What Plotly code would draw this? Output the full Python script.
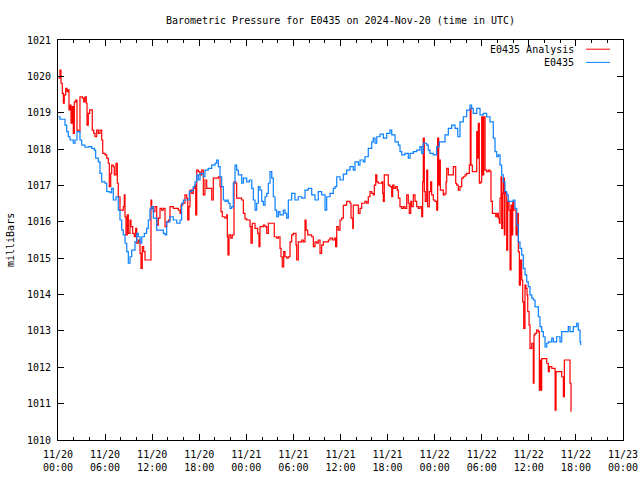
import pandas as pd
import plotly.graph_objects as go

# ---- data (hours since 2024-11-20 00:00 UTC, pressure in mb) ----
station_hours = [0.04,0.25,0.64,0.89,1.11,1.31,1.53,1.95,2.17,2.42,2.80,3.02,3.44,3.86,4.29,4.63,4.80,5.14,5.35,5.57,
    5.99,6.21,6.63,6.84,7.05,7.39,7.68,7.90,8.12,8.32,8.54,8.76,8.96,9.18,9.39,9.81,10.03,10.23,10.45,10.67,
    11.00,11.30,11.51,11.72,11.94,12.15,12.36,12.58,13.00,13.42,13.64,13.85,14.27,14.69,15.13,15.55,15.76,15.97,16.40,16.73,
    17.04,17.24,17.46,17.68,17.88,18.10,18.52,18.73,19.15,19.59,20.01,20.22,20.43,20.65,20.86,21.07,21.28,21.50,21.70,21.92,
    22.14,22.34,22.56,22.77,22.98,23.41,23.62,24.05,24.38,24.69,24.89,25.11,25.32,25.53,25.74,25.96,26.16,26.38,26.60,26.80,
    27.02,27.24,27.44,27.66,27.87,28.08,28.29,28.71,28.93,29.15,29.35,29.78,30.20,30.62,31.06,31.48,31.90,32.33,32.75,33.17,
    33.60,34.03,34.24,34.66,35.08,35.30,35.52,35.94,36.36,36.79,37.21,37.63,37.85,38.27,38.49,38.91,39.12,39.54,39.98,40.18,
    40.40,40.62,41.04,41.46,41.89,42.31,42.53,42.95,43.37,43.58,43.80,44.22,44.64,44.86,45.28,45.71,46.13,46.35,46.55,46.99,
    47.19,47.41,47.83,48.26,48.59,48.90,49.32,49.74,50.17,50.59,50.94,51.23,51.65,52.08,52.50,52.72,52.92,53.36,53.78,54.20,
    54.63,55.05,55.47,55.69,55.91,56.11,56.33,56.54,56.75,56.96,57.18,57.38,57.82,58.02,58.24,58.46,58.66,58.87,59.09,59.29,
    59.51,59.73,59.93,60.15,60.37,60.57,60.79,61.21,61.42,61.64,61.85,62.06,62.28,62.48,62.92,63.12,63.55,63.97,64.19,64.83,
    65.03,65.25,65.67,66.10,66.30,66.52,66.61]
station_mb = [1018.89,1018.82,1018.82,1018.66,1018.48,1018.34,1018.25,1018.16,1018.25,1018.48,1018.25,1018.11,1018.05,1018.07,1018.02,1017.97,1017.75,1017.65,1017.33,1017.10,
    1017.06,1016.83,1016.80,1016.92,1016.60,1016.69,1016.32,1016.05,1015.77,1015.64,1015.41,1015.18,1014.86,1015.04,1015.22,1015.45,1015.68,1015.59,1015.41,1015.59,
    1015.68,1015.82,1016.05,1016.35,1016.42,1016.10,1016.10,1015.77,1015.77,1015.68,1015.64,1016.00,1016.14,1016.05,1015.96,1016.05,1016.51,1016.60,1016.60,1016.83,
    1016.87,1016.97,1017.10,1017.29,1017.15,1017.33,1017.24,1017.42,1017.47,1017.56,1017.61,1017.70,1017.52,1017.24,1016.97,1016.60,1016.56,1016.60,1016.51,1016.37,
    1016.42,1017.06,1017.56,1017.42,1017.29,1017.06,1017.20,1017.10,1017.15,1016.92,1016.60,1016.32,1016.51,1016.97,1016.87,1016.56,1016.46,1016.69,1016.78,1017.06,
    1017.38,1017.20,1016.69,1016.32,1016.14,1016.28,1016.19,1016.32,1016.23,1016.10,1016.60,1016.78,1016.60,1016.69,1016.65,1016.87,1016.92,1016.74,1016.60,1016.83,
    1016.74,1016.32,1016.69,1016.78,1016.92,1016.97,1017.24,1017.15,1017.31,1017.42,1017.52,1017.42,1017.65,1017.56,1017.70,1017.65,1017.79,1018.02,1018.20,1018.30,
    1018.16,1018.34,1018.41,1018.30,1018.43,1018.52,1018.39,1018.20,1018.11,1017.93,1017.84,1017.88,1017.75,1017.88,1017.93,1017.97,1018.07,1017.88,1018.16,1018.11,
    1017.97,1017.88,1017.84,1018.07,1018.20,1018.20,1018.39,1018.57,1018.66,1018.57,1018.34,1018.75,1018.89,1019.07,1019.21,1019.12,1018.98,1019.12,1018.94,1018.98,
    1018.89,1018.75,1018.30,1017.93,1017.79,1017.84,1017.56,1017.29,1017.10,1016.83,1016.74,1016.56,1016.56,1016.60,1016.37,1015.91,1015.45,1015.27,1015.09,1014.72,
    1014.54,1014.35,1014.22,1013.99,1013.90,1013.85,1013.66,1013.39,1013.12,1012.98,1012.84,1012.56,1012.66,1012.70,1012.80,1012.70,1012.84,1012.70,1012.98,1012.98,
    1013.12,1012.98,1013.12,1013.21,1013.02,1012.70,1012.61]

analysis_hours = [0.06,0.25,0.38,0.55,0.68,0.80,0.98,1.15,1.31,1.40,1.53,1.66,1.82,1.95,2.08,2.26,2.42,2.59,2.80,3.10,
    3.28,3.44,3.61,3.70,3.86,4.04,4.21,4.37,4.55,4.72,4.93,5.14,5.35,5.57,5.70,5.99,6.21,6.41,6.54,6.72,
    6.84,7.05,7.17,7.39,7.56,7.68,7.90,8.12,8.32,8.45,8.54,8.66,8.83,8.96,9.18,9.30,9.52,9.72,9.90,10.03,
    10.23,10.45,10.58,10.74,10.92,11.09,11.72,11.85,11.94,12.15,12.36,12.58,12.78,13.00,13.21,13.42,13.64,13.85,14.06,14.27,
    14.69,15.13,15.33,15.55,15.68,15.89,16.18,16.40,16.53,16.69,16.82,17.04,17.24,17.46,17.55,17.68,17.88,18.10,18.31,18.52,
    18.73,18.95,19.37,19.59,19.79,20.22,20.43,20.65,20.77,20.94,21.28,21.50,21.58,21.66,21.79,22.01,22.21,22.43,22.65,22.77,
    23.19,23.41,23.62,23.83,24.05,24.25,24.47,24.59,24.76,25.11,25.45,25.61,25.74,26.16,26.38,26.60,26.80,27.44,27.56,27.87,
    28.08,28.29,28.42,28.58,28.76,28.93,29.15,29.35,29.57,29.78,29.99,30.20,30.33,30.42,30.62,30.84,31.06,31.26,31.48,31.61,
    31.82,32.11,32.33,32.54,32.75,32.97,33.17,33.39,33.60,33.81,34.24,34.45,34.66,34.95,35.21,35.38,35.52,35.72,35.94,36.15,
    36.36,36.58,36.79,37.21,37.34,37.56,37.63,38.06,38.27,38.49,38.70,39.12,39.34,39.54,39.76,39.98,40.18,40.31,40.49,40.62,
    40.82,41.04,41.25,41.38,41.46,41.58,41.89,42.09,42.31,42.53,42.65,42.82,43.04,43.24,43.37,43.58,43.80,44.01,44.22,44.44,
    44.64,44.77,44.95,45.07,45.28,45.50,45.71,45.92,46.13,46.35,46.47,46.55,46.68,46.80,46.99,47.11,47.32,47.49,47.62,47.83,
    48.04,48.26,48.38,48.51,48.59,48.72,48.90,49.10,49.32,49.45,49.54,49.74,50.17,50.38,50.59,50.68,50.81,51.01,51.23,51.45,
    51.65,51.87,52.08,52.29,52.42,52.54,52.63,52.80,53.14,53.36,53.48,53.56,53.69,53.87,53.99,54.12,54.25,54.42,54.63,54.84,
    55.05,55.18,55.35,55.60,55.78,55.95,56.11,56.24,56.33,56.46,56.54,56.67,56.75,56.88,56.96,57.09,57.18,57.31,57.48,57.61,
    57.73,57.82,57.95,58.08,58.24,58.37,58.50,58.66,58.79,58.92,59.09,59.22,59.35,59.51,59.64,59.77,59.86,60.03,60.15,60.37,
    60.57,60.66,60.79,61.00,61.21,61.34,61.42,61.51,61.64,62.06,62.28,62.48,62.61,62.92,63.12,63.35,63.47,63.77,64.08,64.19,
    64.40,64.53,64.83,65.16,65.25,65.38]
analysis_mb = [1019.95,1020.17,1019.81,1019.53,1019.26,1019.49,1019.67,1019.58,1019.63,1019.08,1019.21,1018.71,1019.17,1018.43,1019.30,1019.35,1018.52,1018.48,1019.44,1019.40,
    1019.30,1019.44,1019.26,1018.66,1018.98,1019.08,1019.08,1018.52,1018.43,1018.34,1018.52,1018.43,1018.52,1018.25,1017.88,1017.84,1017.75,1017.61,1016.97,1017.33,
    1017.56,1017.52,1017.29,1017.61,1017.06,1016.69,1016.32,1016.32,1016.42,1016.74,1016.14,1015.64,1016.19,1015.68,1016.05,1015.87,1015.68,1015.59,1015.82,1015.41,
    1015.50,1015.13,1014.72,1015.32,1015.18,1014.95,1014.95,1016.60,1016.37,1016.28,1016.42,1015.91,1016.10,1016.37,1016.32,1016.37,1015.87,1016.00,1016.05,1016.42,
    1016.37,1016.37,1016.32,1016.23,1016.46,1016.51,1016.74,1016.65,1016.05,1016.42,1016.87,1016.78,1016.92,1017.01,1016.19,1017.42,1017.38,1017.29,1017.42,1016.74,
    1017.15,1016.92,1016.92,1016.60,1017.20,1017.20,1017.24,1016.97,1016.28,1016.14,1016.10,1016.19,1015.59,1015.09,1015.64,1015.55,1015.64,1017.10,1017.06,1016.65,
    1016.65,1016.60,1016.23,1016.08,1016.05,1016.05,1015.87,1015.41,1015.96,1015.82,1015.68,1015.32,1015.87,1015.91,1015.87,1015.68,1015.96,1015.96,1015.59,1015.55,
    1015.59,1015.27,1015.04,1014.76,1015.18,1015.04,1015.00,1015.04,1015.45,1015.64,1015.68,1015.68,1015.36,1014.95,1015.45,1015.45,1015.50,1015.45,1016.05,1015.77,
    1015.64,1015.64,1015.59,1015.32,1015.45,1015.41,1015.50,1015.13,1015.36,1015.45,1015.45,1015.50,1015.55,1015.50,1015.55,1015.32,1015.87,1015.77,1016.05,1016.10,
    1016.45,1016.46,1016.56,1016.51,1016.10,1015.82,1016.46,1016.46,1016.23,1016.37,1016.51,1016.56,1016.51,1016.69,1016.83,1016.78,1016.74,1017.01,1017.29,1017.10,
    1017.06,1017.06,1017.10,1016.78,1016.56,1017.29,1017.29,1017.01,1016.97,1016.69,1017.01,1016.92,1016.97,1016.87,1016.65,1016.42,1016.37,1016.42,1016.37,1016.74,
    1016.51,1016.23,1016.56,1016.42,1016.74,1016.56,1016.42,1016.37,1016.42,1016.14,1017.10,1018.30,1016.83,1016.56,1017.42,1016.42,1016.83,1017.10,1016.74,1016.60,
    1016.56,1016.32,1018.30,1017.01,1017.70,1016.87,1016.87,1016.74,1016.78,1017.10,1017.47,1017.29,1017.29,1017.52,1017.52,1017.06,1017.01,1016.87,1016.97,1017.20,
    1017.24,1017.29,1017.33,1017.33,1017.56,1019.12,1017.56,1017.38,1017.38,1018.48,1017.75,1018.71,1017.06,1017.10,1018.89,1017.29,1018.89,1017.42,1017.38,1017.42,
    1017.38,1016.56,1016.23,1016.23,1016.14,1016.23,1016.10,1015.96,1016.65,1017.24,1015.82,1016.78,1017.20,1015.64,1016.83,1016.78,1015.22,1016.56,1016.32,1014.68,
    1016.46,1015.64,1016.56,1016.32,1016.32,1015.64,1016.23,1015.18,1014.26,1014.95,1014.40,1013.80,1013.07,1014.26,1014.17,1013.99,1013.53,1013.16,1012.52,1012.66,
    1011.56,1012.89,1012.93,1013.02,1012.98,1011.37,1012.20,1011.37,1012.24,1012.24,1012.11,1011.88,1012.02,1011.97,1011.97,1010.82,1011.88,1011.88,1011.88,1011.74,
    1011.19,1012.20,1012.20,1012.20,1011.56,1010.78]

series_names = ["E0435 Analysis", "E0435"]
series_colors = ["#ff0000", "#0a80ff"]
base_time = pd.Timestamp("2024-11-20 00:00")
x_start = "2024-11-20 00:00"
x_end = "2024-11-23 00:00"
y_min, y_max = 1010, 1021

assert len(station_hours) == len(station_mb)
assert len(analysis_hours) == len(analysis_mb)

def to_time(hours):
    return base_time + pd.to_timedelta(hours, unit="h")

FONT = "DejaVu Sans Mono"

fig = go.Figure()
fig.add_trace(go.Scatter(x=to_time(analysis_hours), y=analysis_mb, mode="lines",
                         line=dict(color=series_colors[0], width=1.2, shape="hv"),
                         name=series_names[0]))
fig.add_trace(go.Scatter(x=to_time(station_hours), y=station_mb, mode="lines",
                         line=dict(color=series_colors[1], width=1.2, shape="hv"),
                         name=series_names[1]))

fig.update_layout(
    width=640, height=480,
    margin=dict(l=58, r=17, t=40, b=40, autoexpand=False),
    paper_bgcolor="white", plot_bgcolor="white",
    showlegend=False,
    font=dict(family=FONT, size=10, color="black"),
    title=dict(text="Barometric Pressure for E0435 on 2024-Nov-20 (time in UTC)",
               x=0.5, xref="paper", y=1 - 20 / 480, yref="container",
               xanchor="center", yanchor="middle",
               font=dict(family=FONT, size=10, color="black")),
)
fig.update_xaxes(
    type="date", range=[x_start, x_end], automargin=False,
    tickformat="%m/%d<br>%H:%M", dtick=6 * 3600 * 1000, tick0=x_start,
    ticks="inside", ticklen=6, tickcolor="black", ticklabelstandoff=5,
    minor=dict(dtick=2 * 3600 * 1000, ticks="inside", ticklen=3, tickcolor="black", showgrid=False),
    showline=True, linecolor="black", linewidth=1, mirror="ticks",
    showgrid=False, zeroline=False,
    tickfont=dict(family=FONT, size=10, color="black"),
)
fig.update_yaxes(
    range=[y_min, y_max], dtick=1, tick0=y_min, automargin=False,
    ticks="inside", ticklen=6, tickcolor="black",
    showline=True, linecolor="black", linewidth=1, mirror="ticks",
    showgrid=False, zeroline=False, ticklabelstandoff=4,
    tickfont=dict(family=FONT, size=10, color="black"),
)
fig.add_annotation(text="milliBars", xref="paper", yref="paper", x=(10 - 58) / 565, y=0.5,
                   textangle=-90, showarrow=False, xanchor="center", yanchor="middle",
                   font=dict(family=FONT, size=10, color="black"))

# legend drawn gnuplot-style: text then line sample
legend_rows = [(0.977, series_names[0], series_colors[0]), (0.944, series_names[1], series_colors[1])]
for yy, name, col in legend_rows:
    fig.add_annotation(text=name, xref="paper", yref="paper", x=0.916, y=yy,
                       showarrow=False, xanchor="right", yanchor="middle",
                       font=dict(family=FONT, size=10, color="black"))
    fig.add_shape(type="line", xref="paper", yref="paper", x0=0.9345, x1=0.977, y0=yy, y1=yy,
                  line=dict(color=col, width=1))

fig.write_html("out.html", config={"displayModeBar": False},
               post_script="document.body.style.margin='0';document.body.style.overflow='hidden';")
